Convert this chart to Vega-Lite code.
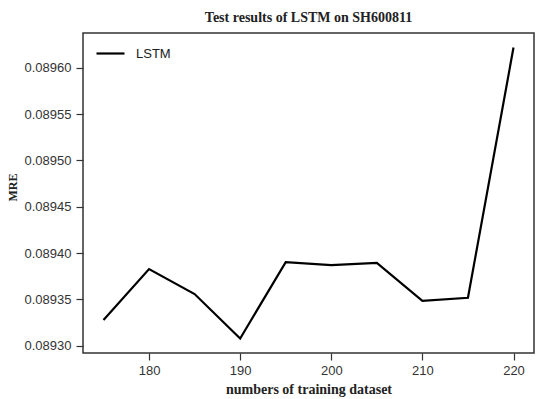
{
  "$schema": "https://vega.github.io/schema/vega-lite/v6.json",
  "width": 451,
  "height": 320,
  "autosize": "none",
  "padding": {"left": 83, "top": 33, "right": 2, "bottom": 46},
  "background": "white",
  "title": {
    "text": "Test results of LSTM on SH600811",
    "font": "Liberation Serif",
    "fontSize": 14,
    "fontWeight": "bold",
    "color": "#222",
    "anchor": "middle",
    "offset": 8
  },
  "config": {
    "view": {"stroke": "#333", "strokeWidth": 1.5},
    "axis": {
      "grid": false,
      "domain": false,
      "tickColor": "#333",
      "tickWidth": 1.2,
      "tickSize": 7,
      "labelFont": "Liberation Sans Narrow, Liberation Sans, sans-serif",
      "labelFontSize": 13,
      "labelColor": "#333",
      "titleFont": "Liberation Serif",
      "titleFontSize": 14,
      "titleFontWeight": "bold",
      "titleColor": "#222"
    }
  },
  "data": {
    "values": [
      {"n": 175, "mre": 0.0893277},
      {"n": 180, "mre": 0.0893827},
      {"n": 185, "mre": 0.0893558},
      {"n": 190, "mre": 0.0893079},
      {"n": 195, "mre": 0.0893903},
      {"n": 200, "mre": 0.0893870},
      {"n": 205, "mre": 0.0893895},
      {"n": 210, "mre": 0.0893485},
      {"n": 215, "mre": 0.0893518},
      {"n": 220, "mre": 0.0896218}
    ]
  },
  "mark": {"type": "line", "strokeWidth": 2.2, "clip": true},
  "encoding": {
    "x": {
      "field": "n",
      "type": "quantitative",
      "scale": {"domain": [172.75, 222.25], "nice": false, "zero": false},
      "axis": {
        "values": [180, 190, 200, 210, 220],
        "format": "d",
        "labelPadding": 4,
        "title": "numbers of training dataset",
        "titleY": 40,
        "titleBaseline": "alphabetic"
      }
    },
    "y": {
      "field": "mre",
      "type": "quantitative",
      "scale": {"domain": [0.0892922, 0.0896375], "nice": false, "zero": false},
      "axis": {
        "values": [0.0893, 0.08935, 0.0894, 0.08945, 0.0895, 0.08955, 0.0896],
        "format": ".5f",
        "labelPadding": 5,
        "title": "MRE",
        "titleAngle": -90,
        "titleX": -67,
        "titleY": 154,
        "titleBaseline": "alphabetic",
        "titleFontSize": 12
      }
    },
    "color": {
      "datum": "LSTM",
      "scale": {"range": ["#000000"]},
      "legend": {
        "title": null,
        "orient": "none",
        "legendX": 12,
        "legendY": 5,
        "symbolType": "stroke",
        "symbolSize": 784,
        "symbolStrokeWidth": 2.2,
        "labelFont": "Liberation Sans Narrow, Liberation Sans, sans-serif",
        "labelFontSize": 13,
        "labelColor": "#222",
        "labelOffset": 10
      }
    }
  }
}
